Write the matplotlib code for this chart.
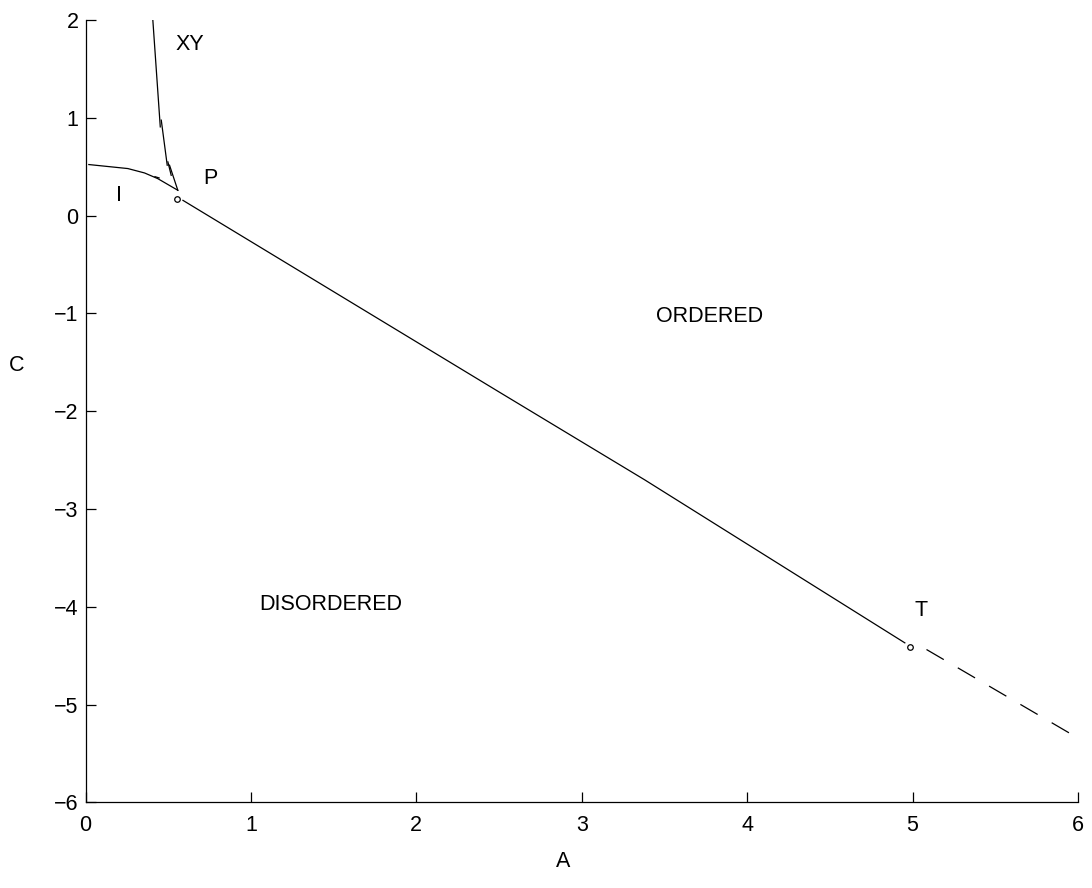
import numpy as np
import matplotlib
matplotlib.use("Agg")
import matplotlib.pyplot as plt

plt.rcParams['font.family'] = ['Liberation Sans', 'DejaVu Sans']

# phase boundary data (A, C)
ti_a = [0.020, 0.256, 0.357, 0.437, 0.558]
ti_c = [0.522, 0.481, 0.436, 0.378, 0.259]

xy_segments = [
    ([0.407, 0.452], [2.000, 0.907]),
    ([0.458, 0.494], [0.976, 0.515]),
    ([0.498, 0.518], [0.549, 0.412]),
    ([0.508, 0.558], [0.515, 0.259]),
    ([0.420, 0.445], [0.398, 0.385]),
]

first_order_a = [0.589, 2.504, 3.381, 4.953]
first_order_c = [0.156, -1.807, -2.702, -4.368]

dashed_a = [5.084, 5.982]
dashed_c = [-4.436, -5.324]

special_a = [0.555, 4.984]
special_c = [0.174, -4.410]

labels = [("XY", 0.629, 1.754), ("P", 0.756, 0.382), ("I", 0.200, 0.207),
          ("ORDERED", 3.774, -1.032), ("DISORDERED", 1.482, -3.972),
          ("T", 5.050, -4.033)]

x_ticks = [0, 1, 2, 3, 4, 5, 6]
y_ticks = [-6, -5, -4, -3, -2, -1, 0, 1, 2]

fs = 15.5

fig = plt.figure(figsize=(10.92, 8.88), dpi=100)
ax = fig.add_axes([0.0783, 0.0963, 0.9089, 0.8812])

lw = 0.9
ax.plot(ti_a, ti_c, 'k-', linewidth=lw)
for sa, sc in xy_segments:
    ax.plot(sa, sc, 'k-', linewidth=lw)
ax.plot(first_order_a, first_order_c, 'k-', linewidth=lw)
ax.plot(dashed_a, dashed_c, color='k', linewidth=lw, linestyle=(0, (16, 13)))
ax.plot(special_a, special_c, 'o', markersize=4, markerfacecolor='white',
        markeredgecolor='k', markeredgewidth=0.9, linestyle='None')

for txt, a, c in labels:
    ax.text(a, c, txt, fontsize=fs, ha='center', va='center')

ax.set_xlim(0, 6)
ax.set_ylim(-6, 2)
ax.set_xticks(x_ticks)
ax.set_yticks(y_ticks)
ax.set_yticklabels([str(v).replace('-', '\u2212') for v in y_ticks])
ax.spines['top'].set_visible(False)
ax.spines['right'].set_visible(False)
for s in ['left', 'bottom']:
    ax.spines[s].set_linewidth(0.9)
ax.tick_params(axis='both', direction='in', length=7, width=0.9, labelsize=fs)
ax.tick_params(axis='x', pad=9)
ax.tick_params(axis='y', pad=5)

ax.set_xlabel('A', fontsize=fs)
ax.xaxis.set_label_coords(0.481, -0.076)
ax.xaxis.label.set_va('center')
ax.set_ylabel('C', fontsize=fs, rotation=0)
ax.yaxis.set_label_coords(-0.069, 0.559)
ax.yaxis.label.set_va('center')
ax.yaxis.label.set_ha('center')

fig.savefig('out.png', dpi=100)
